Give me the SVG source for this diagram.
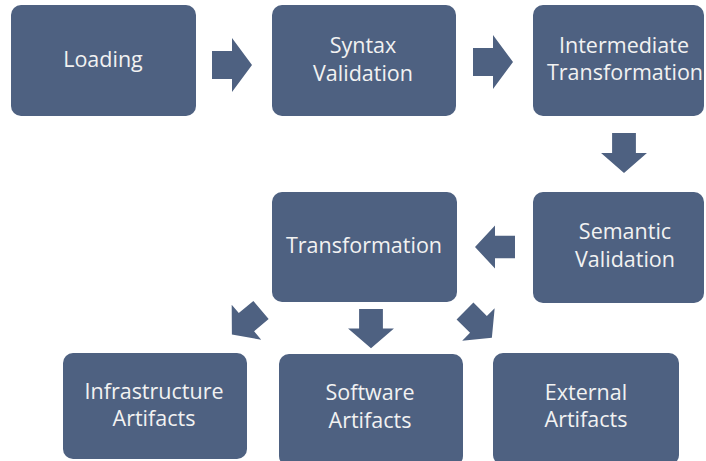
<svg xmlns="http://www.w3.org/2000/svg" width="706" height="461" viewBox="0 0 706 461">
<defs>
<style>
.box{fill:#4e6181;}
.lbl{font-family:"Open Sans","Noto Sans",sans-serif;font-size:21.5px;fill:#f2f2f2;text-anchor:middle;}
.arr{fill:#4e6181;}
</style>
<path id="a" d="M0,-14 L20,-14 L20,-27 L40,0 L20,27 L20,14 L0,14 Z"/>
</defs>
<rect width="706" height="461" fill="#ffffff"/>
<g id="loading"><rect class="box" x="11" y="5" width="185" height="111" rx="10"/><text class="lbl" x="103" y="67">Loading</text></g>
<g id="syntax"><rect class="box" x="272" y="5" width="184" height="111" rx="10"/><text class="lbl" x="363" y="53">Syntax</text><text class="lbl" x="363" y="81">Validation</text></g>
<g id="intermediate"><rect class="box" x="533" y="5" width="171" height="111" rx="10"/><text class="lbl" x="624" y="53">Intermediate</text><text class="lbl" x="625" y="80">Transformation</text></g>
<g id="semantic"><rect class="box" x="533" y="192" width="171" height="111" rx="10"/><text class="lbl" x="625" y="239">Semantic</text><text class="lbl" x="625" y="267">Validation</text></g>
<g id="transformation"><rect class="box" x="272" y="192" width="185" height="110" rx="10"/><text class="lbl" x="364" y="253">Transformation</text></g>
<g id="infrastructure"><rect class="box" x="63" y="353" width="184" height="106" rx="10"/><text class="lbl" x="154" y="399">Infrastructure</text><text class="lbl" x="154" y="426">Artifacts</text></g>
<g id="software"><rect class="box" x="279" y="354" width="184" height="112" rx="10"/><text class="lbl" x="370" y="400">Software</text><text class="lbl" x="370" y="428">Artifacts</text></g>
<g id="external"><rect class="box" x="493" y="353" width="186" height="112" rx="10"/><text class="lbl" x="586" y="400">External</text><text class="lbl" x="586" y="427">Artifacts</text></g>
<g id="connectors" class="arr">
<use href="#a" transform="translate(212,65)"/>
<use href="#a" transform="translate(473,62)"/>
<use href="#a" transform="translate(624,133) rotate(90) scale(1,0.85)"/>
<use href="#a" transform="translate(515,247) rotate(180) scale(1,0.8)"/>
<use href="#a" transform="translate(371,309) rotate(90) scale(0.98,0.85)"/>
<use href="#a" transform="translate(261,310) rotate(140) scale(0.95,0.85)"/>
<use href="#a" transform="translate(465,311) rotate(45) scale(0.95,0.85)"/>
</g>
</svg>
